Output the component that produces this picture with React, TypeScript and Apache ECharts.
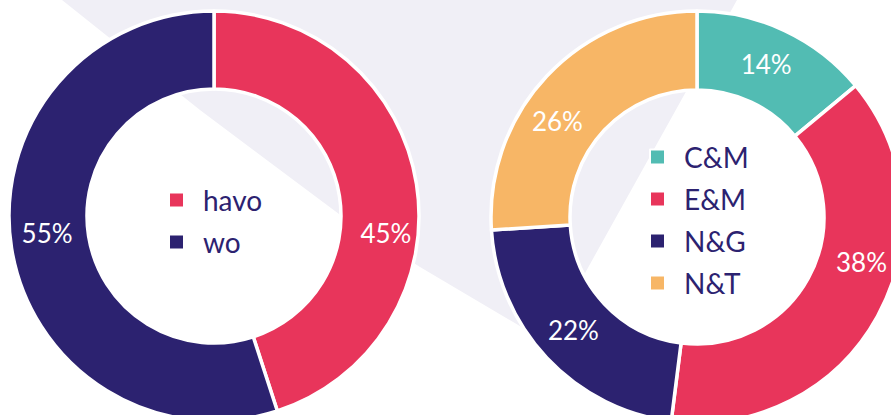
import React, { useEffect, useRef } from "react";
import * as echarts from "echarts";

const levelNames = ["havo", "wo"];
const levelValues = [45, 55];
const profileNames = ["C&M", "E&M", "N&G", "N&T"];
const profileValues = [14, 38, 22, 26];

const PINK = "#e8355b";
const NAVY = "#2c2270";
const TEAL = "#52bcb3";
const ORANGE = "#f7b666";
const LAVENDER = "#f0eff6";

const levelColors = [PINK, NAVY];
const profileColors = [TEAL, PINK, NAVY, ORANGE];

// label nudges (layout only)
const levelLabelShift = [
  [5, 43],
  [0, -9],
];
const profileLabelShift = [
  [-3, 0],
  [16, -37],
  [0, -3],
  [-16, 20],
];

export default function App() {
  const ref = useRef<HTMLDivElement>(null);
  useEffect(() => {
    if (!ref.current) return;
    const chart = echarts.init(ref.current, undefined, { renderer: "svg" });
    const labelStyle = {
      show: true,
      position: "inside",
      formatter: "{c}%",
      color: "#ffffff",
      fontSize: 26,
      fontFamily: "Lato",
      fontWeight: "normal",
    };
    const legendBase = {
      orient: "vertical",
      icon: "rect",
      itemWidth: 15,
      itemHeight: 15,
      itemGap: 14,
      padding: 0,
      selectedMode: false,
      textStyle: {
        color: NAVY,
        fontSize: 28,
        lineHeight: 28,
        fontFamily: "Lato",
        padding: [0, 0, 0, 14],
      },
    };
    chart.setOption({
      animation: false,
      backgroundColor: "#ffffff",
      graphic: [
        {
          type: "polygon",
          z: 0,
          silent: true,
          shape: {
            points: [
              [62, 0],
              [737, 0],
              [545, 345],
              [530, 332],
              [420, 267],
              [343, 217],
              [200, 110],
            ],
          },
          style: { fill: LAVENDER },
        },
      ],
      legend: [
        {
          ...legendBase,
          left: 168,
          top: 186,
          data: levelNames,
        },
        {
          ...legendBase,
          left: 649,
          top: 143,
          data: profileNames,
        },
      ],
      series: [
        {
          type: "pie",
          z: 2,
          center: [214, 216],
          radius: [127, 205],
          startAngle: 90,
          clockwise: true,
          avoidLabelOverlap: false,
          label: labelStyle,
          labelLine: { show: false },
          itemStyle: { borderColor: "#ffffff", borderWidth: 3.5 },
          emphasis: { disabled: true },
          labelLayout: (p: any) => ({
            dx: levelLabelShift[p.dataIndex][0],
            dy: levelLabelShift[p.dataIndex][1],
          }),
          data: levelNames.map((n, i) => ({
            name: n,
            value: levelValues[i],
            itemStyle: { color: levelColors[i] },
          })),
        },
        {
          type: "pie",
          z: 2,
          center: [697, 217],
          radius: [127, 206],
          startAngle: 90,
          clockwise: true,
          avoidLabelOverlap: false,
          label: labelStyle,
          labelLine: { show: false },
          itemStyle: { borderColor: "#ffffff", borderWidth: 3.5 },
          emphasis: { disabled: true },
          labelLayout: (p: any) => ({
            dx: profileLabelShift[p.dataIndex][0],
            dy: profileLabelShift[p.dataIndex][1],
          }),
          data: profileNames.map((n, i) => ({
            name: n,
            value: profileValues[i],
            itemStyle: { color: profileColors[i] },
          })),
        },
      ],
    });
    return () => chart.dispose();
  }, []);
  return (
    <div
      ref={ref}
      style={{ position: "fixed", left: 0, top: 0, width: 891, height: 415 }}
    />
  );
}
